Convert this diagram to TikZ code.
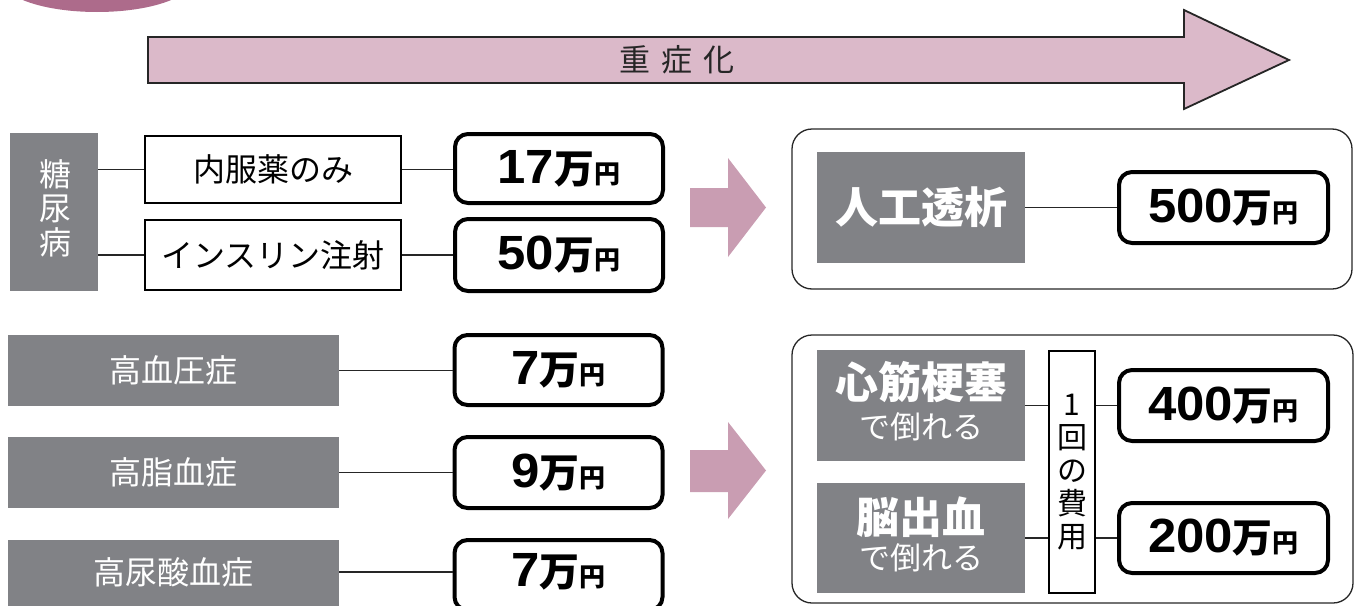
\documentclass[tikz,border=0pt]{standalone}
\usepackage{fontspec}
\usepackage{graphicx}
\setmainfont{Noto Sans CJK JP}
\newfontfamily\numfont{Liberation Sans}
\definecolor{gbox}{HTML}{818286}
\definecolor{parrow}{HTML}{C99DB2}
\definecolor{toparrow}{HTML}{DBB9C9}
\definecolor{topell}{HTML}{AD6B8B}
\newcommand{\pricelabel}[1]{\scalebox{1.06}[1]{\numfont\bfseries\fontsize{48}{48}\selectfont #1}{\bfseries\fontsize{40}{40}\selectfont 万}{\bfseries\fontsize{26}{26}\selectfont 円}}
\tikzset{
  graybox/.style={fill=gbox, text=white, draw=none, inner sep=0pt, font=\fontsize{32}{34}\selectfont},
  whitebox/.style={draw=black, line width=1.8pt, fill=white, inner sep=0pt, font=\fontsize{32}{34}\selectfont},
  pricebox/.style={draw=black, line width=4pt, rounded corners=13pt, fill=white, inner sep=0pt, minimum width=208pt},
  container/.style={draw=black!85, line width=1.3pt, rounded corners=20pt, inner sep=0pt},
  conn/.style={draw=black!85, line width=1.4pt},
  bigwhite/.style={text=white, inner sep=0pt, font=\bfseries\fontsize{43}{43}\selectfont},
  smallwhite/.style={text=white, inner sep=0pt, font=\fontsize{31}{31}\selectfont},
}
\begin{document}
\begin{tikzpicture}[x=1pt,y=-1pt]
\useasboundingbox (0,0) rectangle (1362,605);
% top partial ellipse
\fill[topell] (97,-20) ellipse [x radius=95pt, y radius=32pt];
% top arrow
\draw[fill=toparrow, line width=1.8pt, draw=black!85, line join=miter]
  (148,37) -- (1184,37) -- (1184,10) -- (1289,60) -- (1184,109) -- (1184,83) -- (148,83) -- cycle;
\node[inner sep=0pt, font=\fontsize{31}{31}\selectfont, text=black!85] (sev) at (677,60) {重\hspace{11pt}症\hspace{11pt}化};
% pink arrows
\fill[parrow] (690,188) -- (728,188) -- (728,158) -- (766,207.5) -- (728,257) -- (728,227) -- (690,227) -- cycle;
\fill[parrow] (690,450) -- (728,450) -- (728,422) -- (766,470.5) -- (728,519) -- (728,492) -- (690,492) -- cycle;
% containers
\node[container, minimum width=560pt, minimum height=160pt] (cont1) at (1072,209) {};
\node[container, minimum width=561pt, minimum height=268pt] (cont2) at (1072.5,469) {};
% diabetes
\node[graybox, minimum width=88pt, minimum height=158pt] (diab) at (54,212) {};
\node[text=white, inner sep=0pt, align=center, font=\fontsize{32}{34}\selectfont] (diabt) at (55,208) {糖\\尿\\病};
\node[whitebox, minimum width=256pt, minimum height=67pt] (med1) at (273,169.5) {内服薬のみ};
\node[whitebox, minimum width=256pt, minimum height=70pt] (med2) at (273,255) {インスリン注射};
\node[pricebox, minimum height=69pt] (p17) at (559,168.5) {\pricelabel{17}};
\node[pricebox, minimum height=72pt] (p50) at (559,255) {\pricelabel{50}};
\draw[conn] (med1.west) -- (med1.west -| diab.east);
\draw[conn] (med2.west) -- (med2.west -| diab.east);
\draw[conn] (med1.east) -- (med1.east -| p17.west);
\draw[conn] (med2.east) -- (med2.east -| p50.west);
% other diseases
\node[graybox, minimum width=331pt, minimum height=71pt] (hbp) at (173.5,370.5) {高血圧症};
\node[graybox, minimum width=331pt, minimum height=71pt] (hl) at (173.5,472.5) {高脂血症};
\node[graybox, minimum width=331pt, minimum height=71pt] (hu) at (173.5,575.5) {};
\node[text=white, inner sep=0pt, font=\fontsize{32}{34}\selectfont] (hut) at (173.5,572) {高尿酸血症};
\node[pricebox, minimum height=70pt] (p7a) at (558.5,370) {\pricelabel{7}};
\node[pricebox, minimum height=71pt] (p9) at (558.5,472.5) {\pricelabel{9}};
\node[pricebox, minimum height=70pt] (p7b) at (558.5,575) {};
\node[inner sep=0pt] (p7bt) at (558.5,572) {\pricelabel{7}};
\draw[conn] (hbp.east) -- (hbp.east -| p7a.west);
\draw[conn] (hl.east) -- (hl.east -| p9.west);
\draw[conn] (p7bt.center -| hu.east) -- (p7bt.center -| p7b.west);
% dialysis
\node[graybox, minimum width=208pt, minimum height=111pt, font=\bfseries\fontsize{43}{43}\selectfont] (dial) at (921,207.5) {人工透析};
\node[pricebox, minimum width=209pt, minimum height=71pt] (p500) at (1223.5,207.5) {\pricelabel{500}};
\draw[conn] (dial.east) -- (p500.west);
% heart / brain
\node[graybox, minimum width=208pt, minimum height=111pt] (mi) at (921,405.5) {};
\node[bigwhite] (mit) at ([yshift=23pt]mi.center) {心筋梗塞};
\node[smallwhite] (mis) at ([yshift=-21pt]mi.center) {で倒れる};
\node[graybox, minimum width=208pt, minimum height=110pt] (ich) at (921,538) {};
\node[bigwhite] (icht) at ([yshift=21pt]ich.center) {脳出血};
\node[smallwhite] (ichs) at ([yshift=-20pt]ich.center) {で倒れる};
\node[whitebox, minimum width=46pt, minimum height=242pt, align=center, font=\fontsize{30}{33}\selectfont] (cost) at (1072,472) {1\\回\\の\\費\\用};
\node[pricebox, minimum width=209pt, minimum height=71pt] (p400) at (1223.5,405.5) {\pricelabel{400}};
\node[pricebox, minimum width=209pt, minimum height=70pt] (p200) at (1223.5,538) {\pricelabel{200}};
\draw[conn] (mi.east) -- (mi.east -| cost.west);
\draw[conn] (ich.east) -- (ich.east -| cost.west);
\draw[conn] (p400.west -| cost.east) -- (p400.west);
\draw[conn] (p200.west -| cost.east) -- (p200.west);
\end{tikzpicture}
\end{document}
